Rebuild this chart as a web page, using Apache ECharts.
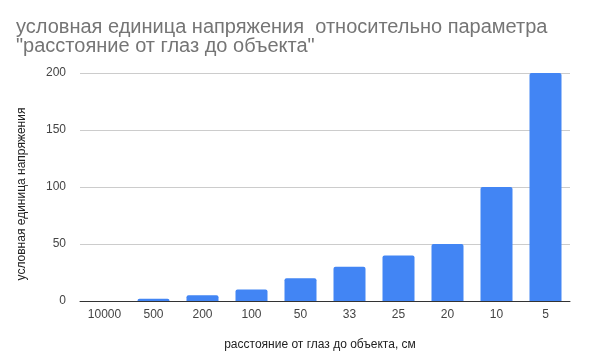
<!DOCTYPE html>
<html><head><meta charset="utf-8">
<script src="https://cdn.jsdelivr.net/npm/echarts@6/dist/echarts.min.js"></script>
<style>html,body{margin:0;padding:0;background:#fff}#c{width:593px;height:362px}</style>
</head><body><div id="c"></div>
<script>
const categories = ['10000','500','200','100','50','33','25','20','10','5'];
const values = [0, 2, 5, 10, 20, 30, 40, 50, 100, 200];
const yTicks = [0, 50, 100, 150, 200];

const chart = echarts.init(document.getElementById('c'), null, {renderer:'canvas'});
chart.setOption({
  animation: false,
  backgroundColor: '#fff',
  title: {
    text: 'условная единица напряжения  относительно параметра\n"расстояние от глаз до объекта"',
    left: 11, top: 13,
    textStyle: {fontFamily: 'Liberation Sans, Arial', fontSize: 20, fontWeight: 'normal', color: '#757575', lineHeight: 19}
  },
  grid: {left: 80, right: 23, top: 73, bottom: 61},
  xAxis: {
    type: 'category', data: categories,
    name: 'расстояние от глаз до объекта, см', nameLocation: 'middle', nameGap: 38,
    nameTextStyle: {fontFamily: 'Liberation Sans, Arial', fontSize: 12, color: '#222', padding: [0, 10, 0, 0]},
    axisLine: {lineStyle: {color: '#333', width: 1}},
    axisTick: {show: false},
    axisLabel: {fontFamily: 'Liberation Sans, Arial', fontSize: 12, color: '#444', margin: 8}
  },
  yAxis: {
    type: 'value', min: yTicks[0], max: yTicks[yTicks.length-1], interval: 50,
    name: 'условная единица напряжения', nameLocation: 'middle', nameGap: 52,
    nameTextStyle: {fontFamily: 'Liberation Sans, Arial', fontSize: 12, color: '#222', padding: [0, 14, 0, 0]},
    axisLine: {show: false}, axisTick: {show: false},
    axisLabel: {fontFamily: 'Liberation Sans, Arial', fontSize: 12, color: '#444', margin: 14},
    splitLine: {lineStyle: {color: '#ccc', width: 1}}
  },
  series: [{
    type: 'bar', data: values, barWidth: 32,
    itemStyle: {color: '#4285F4', borderRadius: [2,2,0,0]}
  }]
});
</script></body></html>
